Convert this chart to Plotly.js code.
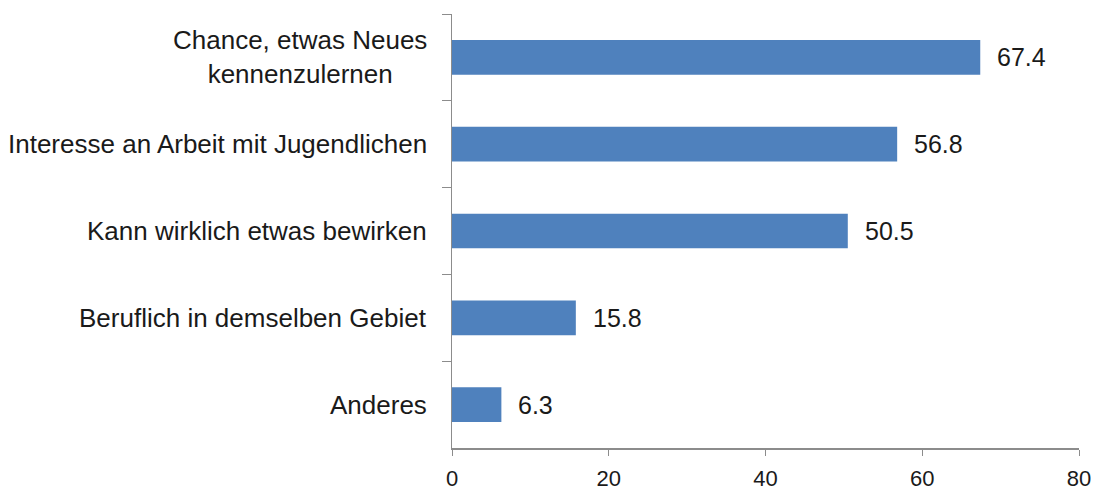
<!doctype html>
<html>
<head>
<meta charset="utf-8">
<script src="https://cdn.plot.ly/plotly-3.0.1.min.js"></script>
<style>
  body { margin: 0; background: #fff; }
  #chart { width: 1099px; height: 490px; }
</style>
</head>
<body>
<div id="chart"></div>
<script>
  let categories = [
    'Chance, etwas Neues<br>kennenzulernen',
    'Interesse an Arbeit mit Jugendlichen',
    'Kann wirklich etwas bewirken',
    'Beruflich in demselben Gebiet',
    'Anderes'
  ]
  let values = [67.4, 56.8, 50.5, 15.8, 6.3]
  let xTicks = [0, 20, 40, 60, 80]

  let font = { family: 'Liberation Sans, Arial, sans-serif', color: '#1a1a1a' }
  let axisGrey = '#8c8c8c'

  let labelNotes = categories.map(c => ({
    x: 0, xref: 'paper', xanchor: 'right', xshift: -23,
    y: c, yref: 'y', yanchor: 'middle',
    text: c, align: 'center', showarrow: false,
    font: Object.assign({ size: 26 }, font)
  }))
  let valueNotes = categories.map((c, i) => ({
    x: values[i], xref: 'x', xanchor: 'left', xshift: 15,
    y: c, yref: 'y', yanchor: 'middle',
    text: values[i].toFixed(1), showarrow: false,
    font: Object.assign({ size: 25 }, font)
  }))

  Plotly.newPlot('chart', [{
    type: 'bar',
    orientation: 'h',
    x: values,
    y: categories,
    marker: { color: '#4f81bd' },
    hoverinfo: 'none'
  }], {
    width: 1099,
    height: 490,
    margin: { l: 452, r: 20, t: 14, b: 42 },
    paper_bgcolor: '#fff',
    plot_bgcolor: '#fff',
    showlegend: false,
    bargap: 0.6,
    font: font,
    xaxis: {
      range: [0, 80],
      tickvals: xTicks,
      ticks: 'outside',
      ticklen: 6,
      tickcolor: axisGrey,
      showline: true,
      linecolor: axisGrey,
      linewidth: 1.5,
      showgrid: false,
      zeroline: false,
      ticklabelstandoff: 4,
      tickfont: Object.assign({ size: 22 }, font)
    },
    yaxis: {
      autorange: 'reversed',
      showticklabels: false,
      ticks: 'outside',
      tickson: 'boundaries',
      ticklen: 9,
      tickcolor: axisGrey,
      showline: true,
      linecolor: axisGrey,
      linewidth: 1.5,
      showgrid: false,
      zeroline: false
    },
    annotations: labelNotes.concat(valueNotes)
  }, { displayModeBar: false, staticPlot: true })
</script>
</body>
</html>
